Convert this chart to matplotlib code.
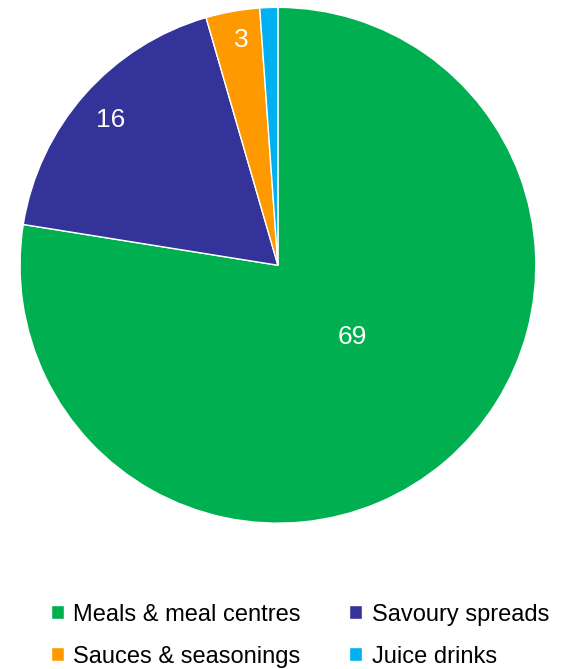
import matplotlib.pyplot as plt
import numpy as np

# category shares
categories = ['Meals & meal centres', 'Savoury spreads', 'Sauces & seasonings', 'Juice drinks']
values = [69, 16, 3, 1]
value_labels = ['69', '16', '3', '']
colors = ['#00B050', '#333399', '#FF9900', '#00B0F0']

plt.rcParams['font.family'] = ['Liberation Sans', 'DejaVu Sans']

fig = plt.figure(figsize=(5.65, 6.69), dpi=100)
ax = fig.add_axes([0.0354, 0.218, 0.913, 0.771])

wedges, _ = ax.pie(values, colors=colors, startangle=90, counterclock=False,
                   wedgeprops=dict(edgecolor='white', linewidth=1))
ax.set_xlim(-1, 1)
ax.set_ylim(-1, 1)
ax.set_aspect('equal')

# data labels: radius and small angle nudge from each wedge's middle
label_r = [0.40, 0.86, 0.885, 0.9]
label_shift = [5.5, 0.5, -0.8, 0]
for w, txt, r, d in zip(wedges, value_labels, label_r, label_shift):
    if not txt:
        continue
    ang = np.deg2rad((w.theta1 + w.theta2) / 2 + d)
    ax.text(r * np.cos(ang), r * np.sin(ang), txt, color='white',
            fontsize=19, ha='center', va='center')

# legend filled row by row
order = [0, 2, 1, 3]
fig.legend([wedges[i] for i in order], [categories[i] for i in order],
           ncol=2, frameon=False, fontsize=17,
           loc='center', bbox_to_anchor=(0.531, 0.05),
           handlelength=0.55, handleheight=0.55, handletextpad=0.4,
           columnspacing=2.05, labelspacing=0.85)

plt.savefig('out.png', dpi=100)
